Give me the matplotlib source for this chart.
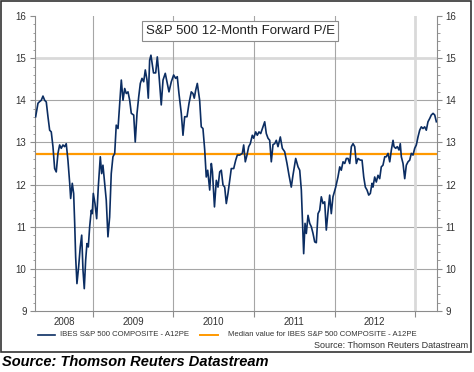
import matplotlib
matplotlib.use("Agg")
import matplotlib.pyplot as plt
from matplotlib.patches import Rectangle
from matplotlib.ticker import MultipleLocator, FixedLocator, NullFormatter
import numpy as np

plt.rcParams['font.family'] = ['Liberation Sans', 'DejaVu Sans']

# ---- data (decimal year, forward P/E) ----
t_year = [
    2008.288, 2008.317, 2008.338, 2008.358, 2008.379, 2008.400, 2008.420, 2008.441,
    2008.462, 2008.482, 2008.503, 2008.524, 2008.544, 2008.565, 2008.586, 2008.606,
    2008.627, 2008.648, 2008.668, 2008.689, 2008.711, 2008.723, 2008.743, 2008.760,
    2008.773, 2008.785, 2008.801, 2008.822, 2008.842, 2008.860, 2008.876, 2008.892,
    2008.909, 2008.925, 2008.942, 2008.959, 2008.979, 2008.991, 2009.004, 2009.025,
    2009.046, 2009.066, 2009.091, 2009.108, 2009.124, 2009.145, 2009.165, 2009.186,
    2009.207, 2009.227, 2009.248, 2009.270, 2009.289, 2009.311, 2009.332, 2009.352,
    2009.373, 2009.394, 2009.414, 2009.435, 2009.456, 2009.476, 2009.506, 2009.525,
    2009.547, 2009.568, 2009.588, 2009.609, 2009.630, 2009.650, 2009.671, 2009.687,
    2009.704, 2009.720, 2009.752, 2009.779, 2009.799, 2009.820, 2009.848, 2009.870,
    2009.898, 2009.919, 2009.944, 2009.973, 2010.002, 2010.027, 2010.047, 2010.068,
    2010.097, 2010.118, 2010.139, 2010.168, 2010.193, 2010.221, 2010.242, 2010.258,
    2010.276, 2010.296, 2010.325, 2010.345, 2010.366, 2010.388, 2010.407, 2010.425,
    2010.450, 2010.470, 2010.484, 2010.509, 2010.532, 2010.553, 2010.574, 2010.594,
    2010.615, 2010.636, 2010.656, 2010.677, 2010.698, 2010.718, 2010.748, 2010.773,
    2010.793, 2010.822, 2010.855, 2010.872, 2010.892, 2010.913, 2010.934, 2010.954,
    2010.979, 2010.996, 2011.021, 2011.041, 2011.062, 2011.083, 2011.112, 2011.133,
    2011.153, 2011.174, 2011.195, 2011.215, 2011.236, 2011.257, 2011.277, 2011.298,
    2011.327, 2011.352, 2011.381, 2011.410, 2011.435, 2011.463, 2011.484, 2011.518,
    2011.547, 2011.568, 2011.588, 2011.600, 2011.617, 2011.634, 2011.650, 2011.671,
    2011.692, 2011.712, 2011.733, 2011.754, 2011.774, 2011.795, 2011.816, 2011.836,
    2011.857, 2011.878, 2011.898, 2011.919, 2011.940, 2011.960, 2011.981, 2012.015,
    2012.043, 2012.065, 2012.084, 2012.106, 2012.127, 2012.147, 2012.168, 2012.189,
    2012.209, 2012.230, 2012.251, 2012.271, 2012.292, 2012.320, 2012.342, 2012.363,
    2012.383, 2012.404, 2012.425, 2012.445, 2012.466, 2012.478, 2012.499, 2012.519,
    2012.540, 2012.561, 2012.581, 2012.602, 2012.624, 2012.643, 2012.665, 2012.686,
    2012.706, 2012.727, 2012.739, 2012.760, 2012.780, 2012.801, 2012.817, 2012.830,
    2012.851, 2012.872, 2012.892, 2012.913, 2012.934, 2012.954, 2012.975, 2012.996,
    2013.016, 2013.037, 2013.058, 2013.078, 2013.099, 2013.120, 2013.140, 2013.161,
    2013.183, 2013.202, 2013.224, 2013.245, 2013.265,
]
pe = [
    13.61, 13.93, 13.97, 14.00, 14.10, 14.00, 13.96, 13.61,
    13.29, 13.25, 12.90, 12.38, 12.30, 12.74, 12.94, 12.86,
    12.94, 12.90, 12.97, 12.58, 12.03, 11.67, 12.03, 11.79,
    11.08, 10.28, 9.65, 10.05, 10.52, 10.80, 9.97, 9.53,
    10.20, 10.60, 10.52, 11.00, 11.39, 11.31, 11.79, 11.55,
    11.19, 11.94, 12.66, 12.26, 12.46, 12.03, 11.63, 10.76,
    11.23, 12.26, 12.66, 12.74, 13.41, 13.33, 13.93, 14.48,
    14.00, 14.28, 14.16, 14.20, 14.00, 13.69, 13.65, 13.01,
    13.69, 14.08, 14.40, 14.52, 14.44, 14.72, 14.48, 14.05,
    14.95, 15.07, 14.65, 14.65, 15.03, 14.60, 13.89, 14.48,
    14.64, 14.44, 14.20, 14.44, 14.60, 14.52, 14.56, 14.16,
    13.69, 13.17, 13.61, 13.61, 13.93, 14.20, 14.16, 14.05,
    14.24, 14.40, 14.00, 13.37, 13.33, 12.82, 12.18, 12.34,
    11.87, 12.50, 12.30, 11.47, 12.10, 11.94, 12.30, 12.34,
    11.99, 11.94, 11.55, 11.79, 12.10, 12.38, 12.38, 12.58,
    12.70, 12.70, 12.74, 12.94, 12.54, 12.70, 12.90, 12.97,
    13.17, 13.10, 13.25, 13.17, 13.25, 13.21, 13.37, 13.49,
    13.21, 13.10, 13.05, 12.54, 12.95, 12.97, 13.05, 12.90,
    13.13, 12.86, 12.78, 12.50, 12.22, 11.94, 12.22, 12.62,
    12.42, 12.34, 11.87, 11.23, 10.36, 11.08, 10.84, 11.27,
    11.08, 11.00, 10.84, 10.64, 10.62, 11.31, 11.39, 11.71,
    11.55, 11.59, 10.92, 11.35, 11.75, 11.31, 11.71, 11.94,
    12.18, 12.42, 12.34, 12.54, 12.50, 12.62, 12.62, 12.50,
    12.90, 12.97, 12.90, 12.50, 12.62, 12.58, 12.58, 12.18,
    11.94, 11.87, 11.75, 11.79, 12.03, 11.94, 12.18, 12.06,
    12.22, 12.14, 12.42, 12.46, 12.66, 12.66, 12.74, 12.54,
    12.82, 13.05, 12.90, 12.86, 12.90, 12.82, 12.97, 12.66,
    12.50, 12.14, 12.46, 12.54, 12.58, 12.74, 12.70, 12.86,
    12.94, 13.13, 13.29, 13.37, 13.33, 13.37, 13.29, 13.49,
    13.57, 13.65, 13.69, 13.65, 13.49,
]
median_pe = 12.72
year_bounds = [2009, 2010, 2011, 2012, 2013]
year_labels = ["2008", "2009", "2010", "2011", "2012"]
x_range = (2008.280, 2013.273)
y_range = (9, 16)

title = "S&P 500 12-Month Forward P/E"
legend_labels = ["IBES S&P 500 COMPOSITE - A12PE",
                 "Median value for IBES S&P 500 COMPOSITE - A12PE"]
source_small = "Source: Thomson Reuters Datastream"
source_big = "Source: Thomson Reuters Datastream"

W, H = 474, 372
fig = plt.figure(figsize=(W / 100, H / 100), dpi=100)
fig.patch.set_facecolor("white")

ax = fig.add_axes([35 / W, 1 - 311 / H, (437 - 35) / W, (311 - 16) / H])
ax.set_xlim(*x_range)
ax.set_ylim(*y_range)

grid_c = "#a6a6a6"
for yv in range(10, 16):
    if yv == 15:
        ax.axhline(yv, color="#d9d9d9", lw=2.0, zorder=1)
    else:
        ax.axhline(yv, color=grid_c, lw=0.8, zorder=1)
for xv in year_bounds:
    if xv == 2013:
        ax.axvline(xv, color="#d9d9d9", lw=2.0, zorder=1)
    else:
        ax.axvline(xv, color=grid_c, lw=0.8, zorder=1)

ax.axhline(median_pe, color="#ff9900", lw=1.6, zorder=2)
ax.plot(t_year, pe, color="#0b2d62", lw=1.2, zorder=3)

# spines
ax.spines["top"].set_visible(False)
for s in ["left", "right", "bottom"]:
    ax.spines[s].set_color("#8c8c8c")
    ax.spines[s].set_linewidth(0.8)

# y ticks both sides
ax.yaxis.set_major_locator(MultipleLocator(1))
ax.yaxis.set_minor_locator(MultipleLocator(0.2))
ax.tick_params(axis="y", which="both", left=True, right=True, labelleft=True,
               labelright=True, direction="out", colors="#8c8c8c",
               labelcolor="#333333", labelsize=7)
ax.tick_params(axis="y", which="major", length=3.6, width=0.8, pad=2.5)
ax.tick_params(axis="y", which="minor", length=1.8, width=0.6)

# x ticks at year boundaries, labels at middles of visible year spans
ax.xaxis.set_major_locator(FixedLocator(year_bounds))
ax.xaxis.set_major_formatter(NullFormatter())
edges = [x_range[0]] + year_bounds
mids = [(edges[i] + edges[i + 1]) / 2 for i in range(len(year_labels))]
ax.xaxis.set_minor_locator(FixedLocator(mids))
ax.set_xticklabels(year_labels, minor=True)
ax.tick_params(axis="x", which="major", direction="out", length=4, width=0.8,
               colors="#8c8c8c")
ax.tick_params(axis="x", which="minor", length=0, labelsize=7,
               labelcolor="#333333", pad=4)

# title box
ax.text(0.51, 0.968, title, transform=ax.transAxes, ha="center", va="top",
        fontsize=9.5, color="#222222", zorder=5,
        bbox=dict(boxstyle="square,pad=0.3", fc="white", ec="#8c8c8c", lw=0.8))

# legend (manual)
ly = 1 - 335 / H
fig.add_artist(plt.Line2D([38 / W, 55 / W], [ly, ly], color="#0b2d62", lw=1.2,
                          transform=fig.transFigure))
fig.text(60 / W, ly, legend_labels[0], fontsize=5.6, color="#333333",
         va="center", ha="left")
fig.add_artist(plt.Line2D([200 / W, 218 / W], [ly, ly], color="#ff9900", lw=1.4,
                          transform=fig.transFigure))
fig.text(228 / W, ly, legend_labels[1], fontsize=5.6, color="#333333",
         va="center", ha="left")
fig.text(468 / W, 1 - 346 / H, source_small, fontsize=6.5, color="#333333",
         va="center", ha="right")

# outer border
fig.add_artist(Rectangle((0.5 / W, 1 - 352 / H), 470.5 / W, 351.5 / H,
                         transform=fig.transFigure, fill=False,
                         ec="#333333", lw=1.2))

fig.text(2 / W, 1 - 362 / H, source_big, fontsize=10.5, fontweight="bold",
         fontstyle="italic", color="black", va="center", ha="left")

fig.savefig("out.png", dpi=100)
